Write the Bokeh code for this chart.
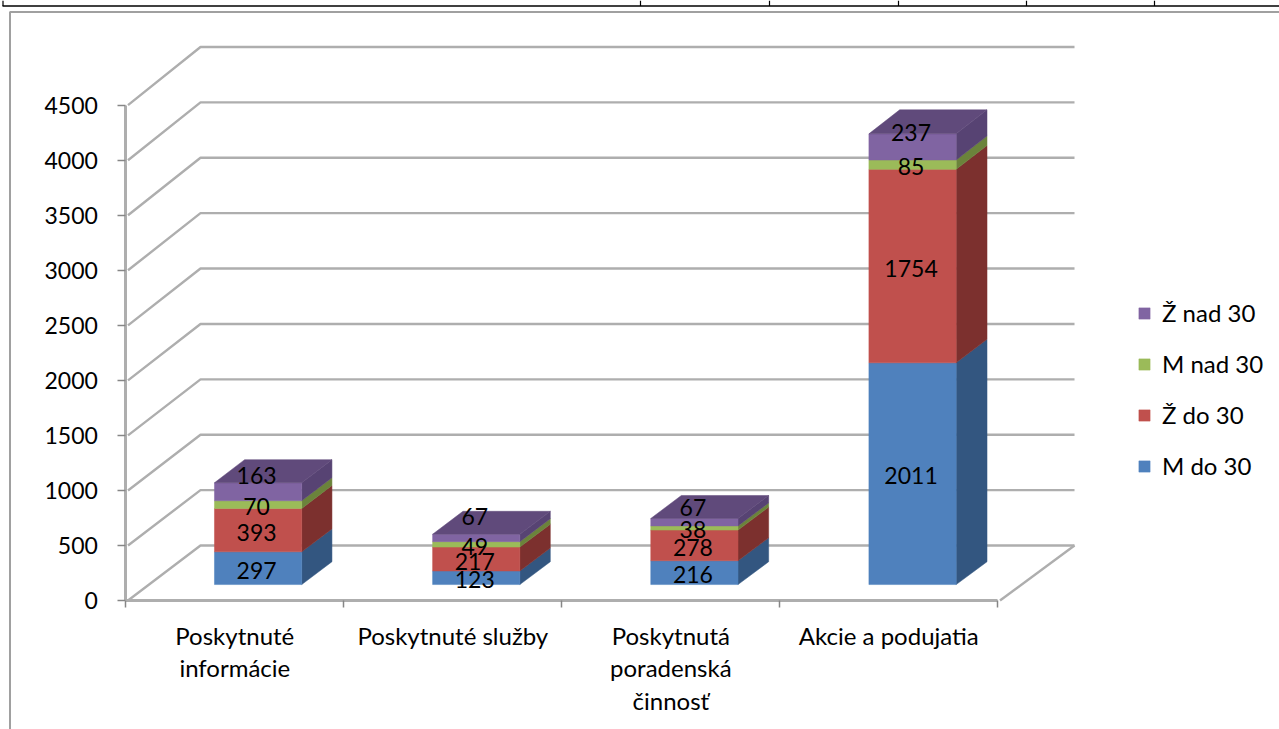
from bokeh.plotting import figure
from bokeh.models import LinearAxis, FixedTicker, Range1d, Legend, LegendItem
from bokeh.core.properties import value
from bokeh.embed import file_html
from bokeh.resources import INLINE

categories = ["Poskytnuté\ninformácie", "Poskytnuté služby", "Poskytnutá\nporadenská\nčinnosť", "Akcie a podujatia"]
m_do_30 = [297, 123, 216, 2011]
z_do_30 = [393, 217, 278, 1754]
m_nad_30 = [70, 49, 38, 85]
z_nad_30 = [163, 67, 67, 237]
series_names = ["M do 30", "Ž do 30", "M nad 30", "Ž nad 30"]
y_ticks = [0, 500, 1000, 1500, 2000, 2500, 3000, 3500, 4000, 4500]

series = [m_do_30, z_do_30, m_nad_30, z_nad_30]
front_col = ["#4f81bd", "#c0504d", "#9bbb59", "#8064a2"]
side_col = ["#335680", "#7c302e", "#6b833b", "#574373"]
top_col = "#604a7b"
grid_col = "#aeaeae"
FONT = "Lato"
FS = "23px"
FS_CAT = "24px"

W, H = 1279, 729
X0, XS = 127.5, 218.0      # canvas position of category 0, px per category
Y0, YS = 600.0, 0.11007    # canvas position of value 0, px per unit
AX = -0.01                 # the axis lines sit about 2px left of the wall's edge

# oblique projection of the 3-D box: depth d in 0..1 (front..back wall)
def proj(x, v, d):
    return x * (1 + 0.0023 * d) + 0.3326 * d, v * (1 + 0.0064 * d) + 499.7 * d

def cx(px):
    return (px - X0) / XS

def cy(py):
    return (Y0 - py) / YS

p = figure(width=W, height=H, output_backend="svg", toolbar_location=None,
           x_range=Range1d(cx(0), cx(W)), y_range=Range1d(cy(H), cy(0)),
           x_axis_type=None, y_axis_type=None, min_border=0,
           outline_line_color=None, margin=(0, 0, 0, 0))
p.grid.visible = False

# page furniture: table rule above, chart frame
p.multi_line([[cx(2), cx(W)]], [[cy(5.5), cy(5.5)]], line_color="black", line_width=1.3)
table_x = [2.5, 640, 769, 898, 1026, 1154]
p.multi_line([[cx(t), cx(t)] for t in table_x], [[cy(0), cy(5.5)] for t in table_x],
             line_color="black", line_width=1.2)
p.multi_line([[cx(9.5), cx(9.5), cx(W)]], [[cy(H), cy(11.5), cy(11.5)]],
             line_color="#a0a0a0", line_width=2)

# walls and floor
n = len(categories)
for t in y_ticks:
    a = proj(0, t, 0); b = proj(0, t, 1); c = proj(n, t, 1)
    p.line([a[0], b[0], c[0]], [a[1], b[1], c[1]], line_color=grid_col, line_width=2.4)
a = proj(n, 0, 0); b = proj(n, 0, 1)
p.line([a[0], b[0]], [a[1], b[1]], line_color=grid_col, line_width=2.4)

# bars
D0, D1, BW = 0.29, 0.705, 0.4
base = [0] * n
front_r = []
lab_x, lab_y, lab_t, lab_off = [], [], [], []
top_lift = [-18, -23, -17, -16]
for s, vals in enumerate(series):
    fx, fy, sx, sy = [], [], [], []
    for i, v in enumerate(vals):
        l, r = i + 0.5 - BW / 2, i + 0.5 + BW / 2
        b0, b1 = base[i], base[i] + v
        pts = [proj(l, b0, D0), proj(r, b0, D0), proj(r, b1, D0), proj(l, b1, D0)]
        fx.append([q[0] for q in pts]); fy.append([q[1] for q in pts])
        pts = [proj(r, b0, D0), proj(r, b0, D1), proj(r, b1, D1), proj(r, b1, D0)]
        sx.append([q[0] for q in pts]); sy.append([q[1] for q in pts])
        m = proj(i + 0.5, b0 + v / 2, D0)
        lab_x.append(m[0] - 1.5 / XS); lab_y.append(m[1]); lab_t.append(str(v))
        lab_off.append(2 + (top_lift[i] if s == len(series) - 1 else 0))
    p.patches(sx, sy, fill_color=side_col[s], line_color=side_col[s], line_width=0.5)
    front_r.append(p.patches(fx, fy, fill_color=front_col[s], line_color=front_col[s], line_width=0.5))
    base = [b + v for b, v in zip(base, vals)]

tx, ty = [], []
for i, t in enumerate(base):
    l, r = i + 0.5 - BW / 2, i + 0.5 + BW / 2
    pts = [proj(l, t, D0), proj(r, t, D0), proj(r, t, D1), proj(l, t, D1)]
    tx.append([q[0] for q in pts]); ty.append([q[1] for q in pts])
p.patches(tx, ty, fill_color=top_col, line_color=top_col, line_width=0.5)

p.text(x=lab_x, y=lab_y, text=lab_t, y_offset=lab_off, text_align="center", text_baseline="middle",
       text_font=value(FONT), text_font_size=value(FS), text_color="black")

# axes
yax = LinearAxis(ticker=FixedTicker(ticks=y_ticks), fixed_location=AX, bounds=(0, 4500),
                 axis_line_color=grid_col, axis_line_width=3,
                 major_tick_line_color="#868686", major_tick_line_width=1.5,
                 major_tick_in=0, major_tick_out=8, minor_tick_out=0, minor_tick_in=0,
                 major_label_standoff=20, major_label_text_font=FONT,
                 major_label_text_font_size=FS, major_label_text_color="black")
p.add_layout(yax, "left")

centres = [i + 0.49 for i in range(n)]
xax = LinearAxis(ticker=FixedTicker(ticks=centres, minor_ticks=[i + AX for i in range(n + 1)]),
                 fixed_location=0, bounds=(AX, n + AX),
                 axis_line_color=grid_col, axis_line_width=3,
                 major_tick_in=0, major_tick_out=0,
                 minor_tick_line_color="#868686", minor_tick_line_width=1.5,
                 minor_tick_in=0, minor_tick_out=7,
                 major_label_overrides={c: t for c, t in zip(centres, categories)},
                 major_label_standoff=13, major_label_text_font=FONT,
                 major_label_text_font_size=FS_CAT, major_label_text_color="black",
                 major_label_text_line_height=1.13)
p.add_layout(xax, "below")

legend = Legend(items=[LegendItem(label=series_names[s], renderers=[front_r[s]]) for s in (3, 2, 1, 0)],
                location=(1137, H - 480), orientation="vertical", glyph_width=14, glyph_height=14,
                spacing=22, padding=0, margin=0, border_line_color=None, background_fill_alpha=0,
                label_text_font=FONT, label_text_font_size=FS_CAT, label_text_color="black",
                label_standoff=11)
p.add_layout(legend, "center")

open("out.html", "w").write(file_html(p, INLINE))
